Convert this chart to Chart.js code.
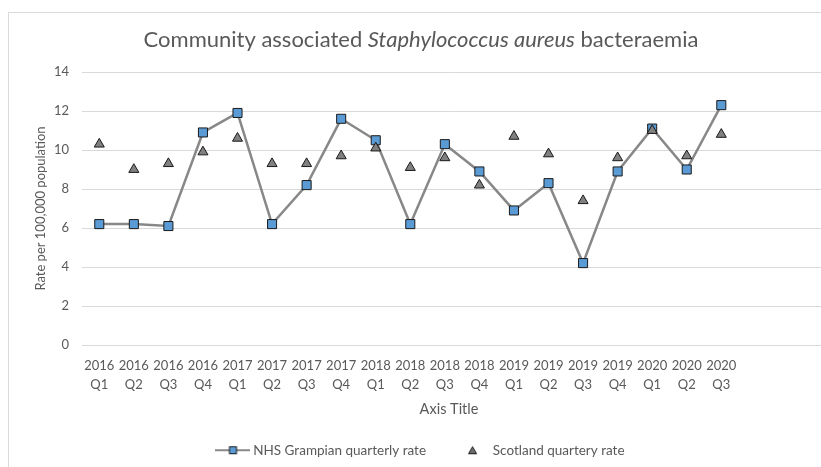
<!DOCTYPE html>
<html>
<head>
<meta charset="utf-8">
<script src="https://cdn.jsdelivr.net/npm/chart.js@4.4.1/dist/chart.umd.min.js"></script>
<style>
  html, body { margin: 0; padding: 0; background: #fff; overflow: hidden; }
  #frame { position: absolute; left: 8px; top: 12px; width: 860px; height: 500px; border: 1px solid #d9d9d9; box-sizing: border-box; }
  #wrap { position: absolute; left: 8px; top: 12px; width: 828px; height: 455px; }
</style>
</head>
<body>
<div id="frame"></div>
<div id="wrap"><canvas id="chart"></canvas></div>
<script>
// Chart data
const quarters = [
  ['2016', 'Q1'], ['2016', 'Q2'], ['2016', 'Q3'], ['2016', 'Q4'],
  ['2017', 'Q1'], ['2017', 'Q2'], ['2017', 'Q3'], ['2017', 'Q4'],
  ['2018', 'Q1'], ['2018', 'Q2'], ['2018', 'Q3'], ['2018', 'Q4'],
  ['2019', 'Q1'], ['2019', 'Q2'], ['2019', 'Q3'], ['2019', 'Q4'],
  ['2020', 'Q1'], ['2020', 'Q2'], ['2020', 'Q3']
];
const grampianRate = [6.2, 6.2, 6.1, 10.9, 11.9, 6.2, 8.2, 11.6, 10.5, 6.2, 10.3, 8.9, 6.9, 8.3, 4.2, 8.9, 11.1, 9.0, 12.3];
const scotlandRate = [10.3, 9.0, 9.3, 9.9, 10.6, 9.3, 9.3, 9.7, 10.1, 9.1, 9.6, 8.2, 10.7, 9.8, 7.4, 9.6, 11.0, 9.7, 10.8];
const yTicks = [0, 2, 4, 6, 8, 10, 12, 14];

const textColor = '#595959';
const fontName = 'Lato';

// legend icons: line with square, and a small triangle
function makeLineIcon() {
  const c = document.createElement('canvas');
  c.width = 35; c.height = 12;
  const g = c.getContext('2d');
  g.strokeStyle = '#888888';
  g.lineWidth = 2;
  g.beginPath(); g.moveTo(0, 6); g.lineTo(35, 6); g.stroke();
  g.fillStyle = '#5b9bd5';
  g.fillRect(14, 2.5, 7, 7);
  g.strokeStyle = '#1a1a1a';
  g.lineWidth = 1;
  g.strokeRect(14, 2.5, 7, 7);
  return c;
}
function makeTriIcon() {
  const c = document.createElement('canvas');
  c.width = 35; c.height = 12;
  const g = c.getContext('2d');
  g.fillStyle = '#6e6e6e';
  g.strokeStyle = '#1a1a1a';
  g.lineWidth = 1;
  g.beginPath(); g.moveTo(17.5, 2.5); g.lineTo(21.5, 9.5); g.lineTo(13.5, 9.5); g.closePath();
  g.fill(); g.stroke();
  return c;
}
const legendIcons = [makeLineIcon(), makeTriIcon()];

// title with italic species name, plus x axis title
const textPlugin = {
  id: 'texts',
  afterDraw(chart) {
    const ctx = chart.ctx;
    const parts = [
      { t: 'Community associated ', f: '22px ' + fontName },
      { t: 'Staphylococcus aureus', f: 'italic 22px ' + fontName },
      { t: ' bacteraemia', f: '22px ' + fontName }
    ];
    ctx.save();
    ctx.fillStyle = textColor;
    ctx.textBaseline = 'middle';
    let total = 0;
    parts.forEach(p => { ctx.font = p.f; p.w = ctx.measureText(p.t).width; total += p.w; });
    let x = 413 - total / 2;
    parts.forEach(p => { ctx.font = p.f; ctx.fillText(p.t, x, 28); x += p.w; });
    ctx.font = '14.5px ' + fontName;
    ctx.textAlign = 'center';
    ctx.fillText('Axis Title', 441, 397);
    ctx.restore();
  }
};

const ctx = document.getElementById('chart').getContext('2d');
const chart = new Chart(ctx, {
  type: 'line',
  data: {
    datasets: [
      {
        label: 'NHS Grampian quarterly rate',
        data: grampianRate.map((v, i) => ({ x: i, y: v })),
        borderColor: '#888888',
        borderWidth: 2.5,
        pointStyle: 'rect',
        pointRadius: 6.4,
        pointBackgroundColor: '#5b9bd5',
        pointBorderColor: '#1a1a1a',
        pointBorderWidth: 1,
        tension: 0,
        order: 2
      },
      {
        label: 'Scotland quartery rate',
        data: scotlandRate.map((v, i) => ({ x: i, y: v })),
        showLine: false,
        pointStyle: 'triangle',
        pointRadius: 5.8,
        pointBackgroundColor: '#808080',
        pointBorderColor: '#1a1a1a',
        pointBorderWidth: 1,
        order: 1
      }
    ]
  },
  options: {
    responsive: true,
    maintainAspectRatio: false,
    animation: false,
    layout: { padding: { top: 60, left: 0, right: 0, bottom: 0 } },
    scales: {
      x: {
        type: 'linear',
        min: -0.5,
        max: 21.1,
        grid: { display: false, drawTicks: false },
        border: { display: false },
        ticks: {
          stepSize: 1,
          includeBounds: false,
          autoSkip: false,
          maxRotation: 0,
          padding: 11,
          color: textColor,
          font: { family: fontName, size: 13, lineHeight: 1.46 },
          callback: v => (Number.isInteger(v) && quarters[v]) ? quarters[v] : ''
        },
        afterFit: scale => { scale.height = 65.5; }
      },
      y: {
        min: yTicks[0],
        max: yTicks[yTicks.length - 1],
        grid: { color: '#d9d9d9', drawTicks: false },
        border: { display: false },
        ticks: {
          stepSize: yTicks[1] - yTicks[0],
          padding: 13,
          color: textColor,
          font: { family: fontName, size: 13 }
        },
        title: {
          display: true,
          text: 'Rate per 100,000 population',
          color: textColor,
          font: { family: fontName, size: 13 },
          padding: { top: 25, bottom: 0 }
        },
        afterFit: scale => { scale.width = 74; }
      }
    },
    plugins: {
      title: { display: false },
      tooltip: { enabled: false },
      legend: {
        position: 'bottom',
        labels: {
          usePointStyle: true,
          pointStyleWidth: 27,
          padding: 33,
          color: textColor,
          font: { family: fontName, size: 13.5 },
          sort: (a, b) => a.datasetIndex - b.datasetIndex,
          generateLabels: c => {
            const items = Chart.defaults.plugins.legend.labels.generateLabels(c);
            items.forEach(it => { it.pointStyle = legendIcons[it.datasetIndex]; });
            return items;
          }
        }
      }
    }
  },
  plugins: [textPlugin]
});
</script>
</body>
</html>
